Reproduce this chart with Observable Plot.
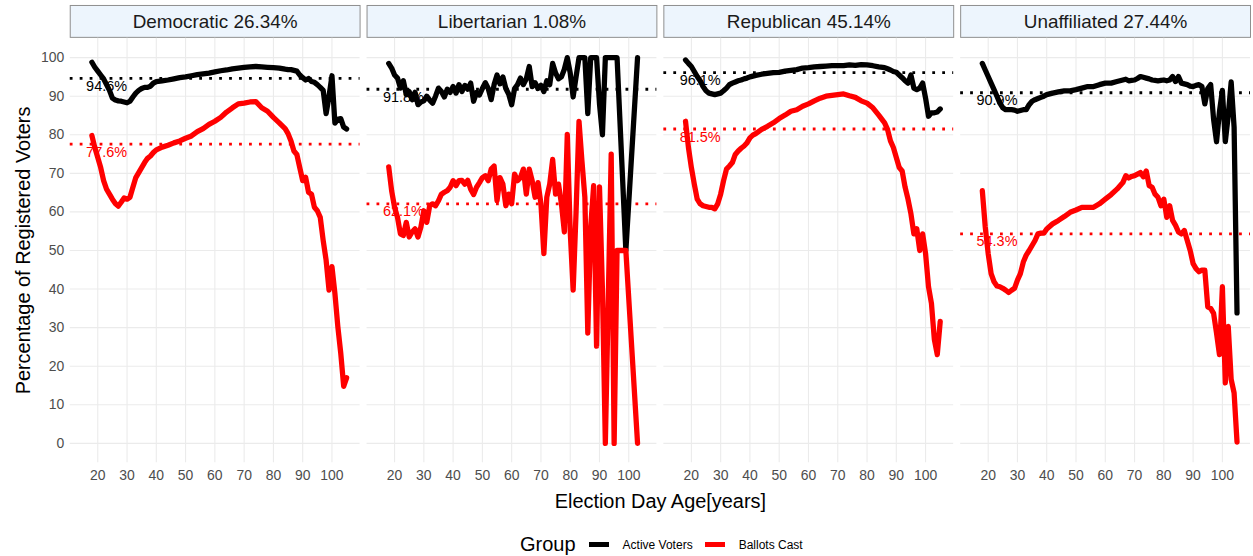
<!DOCTYPE html>
<html><head><meta charset="utf-8">
<script src="https://cdn.jsdelivr.net/npm/d3@7"></script>
<script src="https://cdn.jsdelivr.net/npm/@observablehq/plot@0.6"></script>
<style>
body{margin:0;background:#fff;overflow:hidden;font-family:"Liberation Sans",Arial,sans-serif;}
#legend{display:flex;align-items:center;height:24px;margin-top:20px;padding-left:520px;color:#000;}
#legend .title{font-size:20px;margin-right:13px;}
#legend .key{width:20px;height:5px;margin-right:14px;}
#legend .lab{font-size:12px;margin-right:12px;}
</style></head>
<body><div id="chart"></div><div id="legend"></div>
<script>
const parties = ["Democratic", "Libertarian", "Republican", "Unaffiliated"];
const partyShare = ["26.34%", "1.08%", "45.14%", "27.44%"];
const groups = ["Active Voters", "Ballots Cast"];
const groupColors = ["black", "red"];
const meanActive = [94.6, 91.8, 96.1, 90.9];
const meanBallots = [77.6, 62.1, 81.5, 54.3];
const xTicks = [20, 30, 40, 50, 60, 70, 80, 90, 100];
const yTicks = [0, 10, 20, 30, 40, 50, 60, 70, 80, 90, 100];

const demAges = [18,19,20,21,22,23,24,25,26,27,28,29,30,31,32,33,34,35,36,37,38,39,40,42,44,46,48,50,52,54,56,58,60,62,64,66,68,70,72,74,76,78,80,82,84,85,86,87,88,89,90,91,92,93,94,95,96,97,98,99,100,101,102,103,104,105];
const demActive = [98.8,97.5,96.5,95.5,94.5,93.0,91.5,89.5,89.0,88.8,88.7,88.5,88.3,88.7,89.8,90.8,91.5,92.0,92.3,92.3,92.6,93.4,93.8,
  94.0,94.2,94.5,94.8,95.0,95.3,95.6,95.8,96.0,96.3,96.6,96.8,97.1,97.3,97.5,97.6,97.7,97.6,97.5,97.4,97.3,97.0,
  96.9,96.9,96.7,96.5,95.5,94.8,94.2,94.6,93.8,93.6,93.0,92.3,91.5,85.5,90.0,95.3,83.0,84.0,84.2,82.0,81.5];
const demBallots = [79.8,76.7,74.1,71.5,68.1,65.9,64.6,63.3,62.2,61.5,62.5,63.6,63.3,63.8,66.4,68.9,70.2,71.5,72.8,73.9,74.5,75.4,76.1,
  76.8,77.3,77.9,78.4,79.1,79.7,80.8,81.6,82.7,83.5,84.5,85.9,87.0,88.0,88.2,88.5,88.6,87.0,86.1,84.5,83.1,81.6,
  80.3,78.4,75.8,74.9,71.5,68.1,69.0,65.1,64.6,61.2,60.3,58.6,52.6,47.5,39.7,45.8,38.9,30.3,23.4,14.8,17.0];

const libAges = [18,19,20,21,22,23,24,25,26,27,28,29,30,31,32,33,34,35,36,37,38,39,40,41,42,43,44,45,46,47,48,49,50,51,52,53,54,55,56,57,58,59,60,61,62,63,64,65,66,67,68,69,70,71,72,73,74,75,76,77,78,79,80,81,82,83,84,85,86,87,88,89,90,91,92,94,95,96,99,103];
const libActive = [98.5,97.3,95.5,94.7,92.1,94.0,90.4,91.2,89.1,91.0,
  87.8,88.5,88.8,90.0,89.0,88.2,90.0,92.1,91.2,89.8,
  91.8,91.0,92.5,90.8,93.0,91.2,92.8,91.8,93.4,88.7,
  91.0,90.3,92.0,93.5,92.0,89.1,93.0,95.5,93.2,95.0,
  92.0,90.5,87.8,92.0,93.0,94.7,93.0,94.5,97.7,92.5,
  93.5,92.0,92.8,91.2,94.0,93.0,98.5,96.0,94.5,95.0,
  97.0,100,96.0,89.8,95.0,100,100,100,85.5,100,
  100,100,88.0,80.0,100,
  100,100,100,50,100];
const libBallots = [71.7,65.5,61.2,58.6,54.3,53.9,57.3,53.5,54.8,55.6,
  53.5,56.1,60.3,57.3,61.6,62.1,61.6,62.9,64.6,65.1,
  65.5,66.4,68.1,66.8,68.1,68.2,67.2,68.2,65.9,64.5,
  66.4,67.6,68.9,69.4,68.1,71.1,71.9,62.9,68.9,67.2,
  61.6,64.6,62.1,69.8,68.1,68.9,71.1,64.6,71.1,68.1,
  63.8,67.6,62.1,49.2,63.8,67.2,73.6,64.6,67.2,62.1,
  54.8,80.1,55.0,39.7,60.0,83.5,73.2,63.8,28.6,56.1,
  66.8,25.2,66.5,40.0,0,
  75.0,0,50,50,0];

const repAges = [18,19,20,21,22,23,24,25,26,27,28,29,30,31,32,33,34,35,36,37,38,39,40,41,42,44,46,48,50,52,54,56,58,60,62,64,66,68,70,72,74,76,78,80,82,84,86,87,88,89,90,91,92,93,94,95,96,97,98,99,100,101,102,103,104,105];
const repActive = [99.4,98.5,97.7,96.4,95.1,94.0,92.5,91.4,90.8,90.6,90.4,90.6,90.8,91.4,92.1,93.0,93.4,93.7,94.0,94.2,94.5,94.7,95.0,95.2,95.4,
  95.7,95.9,96.1,96.2,96.5,96.7,96.9,97.3,97.4,97.6,97.7,97.8,97.9,97.9,97.9,98.1,98.0,98.2,98.1,97.9,97.6,97.4,
  97.1,96.8,96.4,96.2,95.5,94.8,94.0,93.4,95.5,92.1,91.7,92.1,93.4,89.5,84.8,85.7,85.7,85.9,86.7];
const repBallots = [83.5,76.7,71.5,67.2,63.3,62.1,61.6,61.4,61.2,61.2,60.8,62.1,64.6,68.1,71.1,71.9,72.8,74.9,75.8,76.5,77.1,77.9,79.2,79.9,80.3,
  81.4,82.2,83.1,84.2,85.1,86.1,86.5,87.4,88.0,88.8,89.5,90.0,90.2,90.4,90.6,90.1,89.7,88.8,88.2,87.0,85.1,83.1,
  81.4,78.4,76.7,74.1,71.5,70.6,66.4,63.3,59.5,54.3,55.6,50.0,54.3,49.2,40.6,36.3,26.9,23.0,31.6];

const unaAges = [18,19,20,21,22,23,24,25,26,27,28,29,30,31,32,33,34,35,36,37,38,39,40,42,44,46,48,50,52,54,56,58,60,62,64,66,67,68,69,70,71,72,73,74,75,76,77,78,79,80,81,82,83,84,85,86,87,88,89,90,91,92,93,94,95,96,97,98,99,100,101,102,103,104,105];
const unaActive = [98.5,96.8,95.1,93.4,91.7,90.0,88.2,87.0,86.5,86.5,86.5,86.4,86.1,86.3,86.5,86.5,87.8,88.7,89.1,89.4,89.7,90.0,90.4,
  90.8,91.1,91.4,91.4,91.7,92.1,92.5,92.5,93.0,93.4,93.4,93.8,94.2,
  94.4,94.0,94.1,94.2,94.6,95.1,94.9,94.7,94.5,94.2,94.1,94.0,94.1,94.2,94.0,94.2,95.1,93.8,95.1,93.4,93.2,93.0,92.6,92.5,
  92.8,93.0,92.5,88.0,92.0,93.0,84.0,78.2,86.0,91.5,78.2,85.0,93.7,82.0,33.8];
const unaBallots = [65.5,56.1,49.2,44.0,41.9,40.8,40.6,40.2,39.7,39.1,39.7,40.2,42.3,44.0,47.0,48.8,50.0,51.3,52.6,54.3,54.5,54.5,55.6,
  56.9,57.8,58.8,59.9,60.5,61.2,61.2,61.2,62.1,63.3,64.5,65.9,67.6,
  69.4,68.8,69.2,69.4,69.8,70.2,69.1,70.6,66.8,66.4,64.6,63.8,61.6,63.3,58.6,61.6,57.8,56.5,54.8,54.3,55.2,52.6,50.0,46.6,
  45.3,44.5,44.9,44.9,35.4,35.0,33.7,28.6,23.0,40.6,15.7,30.3,16.6,13.1,0.3];

const series = [
  [parties[0], demAges, demActive, demBallots],
  [parties[1], libAges, libActive, libBallots],
  [parties[2], repAges, repActive, repBallots],
  [parties[3], unaAges, unaActive, unaBallots]
];
const rows = [];
for (const [party, ages, act, bal] of series) {
  ages.forEach((a, i) => rows.push({party, group: groups[0], age: a, value: act[i]}));
}
for (const [party, ages, act, bal] of series) {
  ages.forEach((a, i) => rows.push({party, group: groups[1], age: a, value: bal[i]}));
}
const meanRows = parties.flatMap((p, i) => [
  {party: p, group: groups[0], mean: meanActive[i]},
  {party: p, group: groups[1], mean: meanBallots[i]}
]);
const stripRows = parties.map((p, i) => ({party: p, label: p + " " + partyShare[i]}));

const FONT = "Liberation Sans, Arial, sans-serif";
const chart = Plot.plot({
  width: 1258, height: 515,
  marginLeft: 69, marginRight: 1, marginTop: 38, marginBottom: 51,
  style: {fontFamily: FONT, background: "white", overflow: "visible"},
  fx: {domain: parties, paddingInner: 0.0224, paddingOuter: 0, axis: null, label: null},
  x: {domain: [10.6, 109.6]},
  y: {domain: [-5, 105]},
  color: {domain: groups, range: groupColors},
  marks: [
    Plot.frame({fill: "#edf5fd", stroke: "#8f8f8f", insetTop: -33, insetBottom: 427}),
    Plot.text(stripRows, {fx: "party", text: "label", frameAnchor: "top", lineAnchor: "middle", dy: -16, fontSize: 19, fill: "#1a1a1a"}),
    Plot.ruleY(yTicks, {stroke: "#ebebeb", strokeWidth: 1.1}),
    Plot.ruleX(xTicks, {stroke: "#ebebeb", strokeWidth: 1.1}),
    Plot.ruleY(meanRows, {fx: "party", y: "mean", stroke: "group", strokeWidth: 2.8, strokeDasharray: "2.8,7.2"}),
    Plot.text(meanRows, {fx: "party", y: "mean", text: d => d.mean.toFixed(1) + "%", fill: "group", frameAnchor: "left", textAnchor: "middle", dx: 36.5, dy: 8, fontSize: 14.5}),
    Plot.line(rows, {fx: "party", x: "age", y: "value", z: "group", stroke: "group", strokeWidth: 5.3, strokeLinejoin: "round"}),
    Plot.axisY(yTicks, {tickSize: 0, tickPadding: 6, fontSize: 14, color: "#4d4d4d", label: null}),
    Plot.axisY([], {tickSize: 0, label: "Percentage of Registered Voters", labelAnchor: "center", labelArrow: "none", labelOffset: 55, fontSize: 20, color: "#000"}),
    Plot.axisX(xTicks, {tickSize: 0, tickPadding: 7, fontSize: 14, color: "#4d4d4d", label: null}),
    Plot.axisX([], {tickSize: 0, label: "Election Day Age[years]", labelAnchor: "center", labelArrow: "none", labelOffset: 46, fontSize: 20, color: "#000"})
  ]
});
document.getElementById("chart").appendChild(chart);

const legend = document.getElementById("legend");
const t = document.createElement("span"); t.className = "title"; t.textContent = "Group"; legend.appendChild(t);
groups.forEach((g, i) => {
  const k = document.createElement("span"); k.className = "key"; k.style.background = groupColors[i]; legend.appendChild(k);
  const l = document.createElement("span"); l.className = "lab"; l.textContent = g; legend.appendChild(l);
});
</script></body></html>
